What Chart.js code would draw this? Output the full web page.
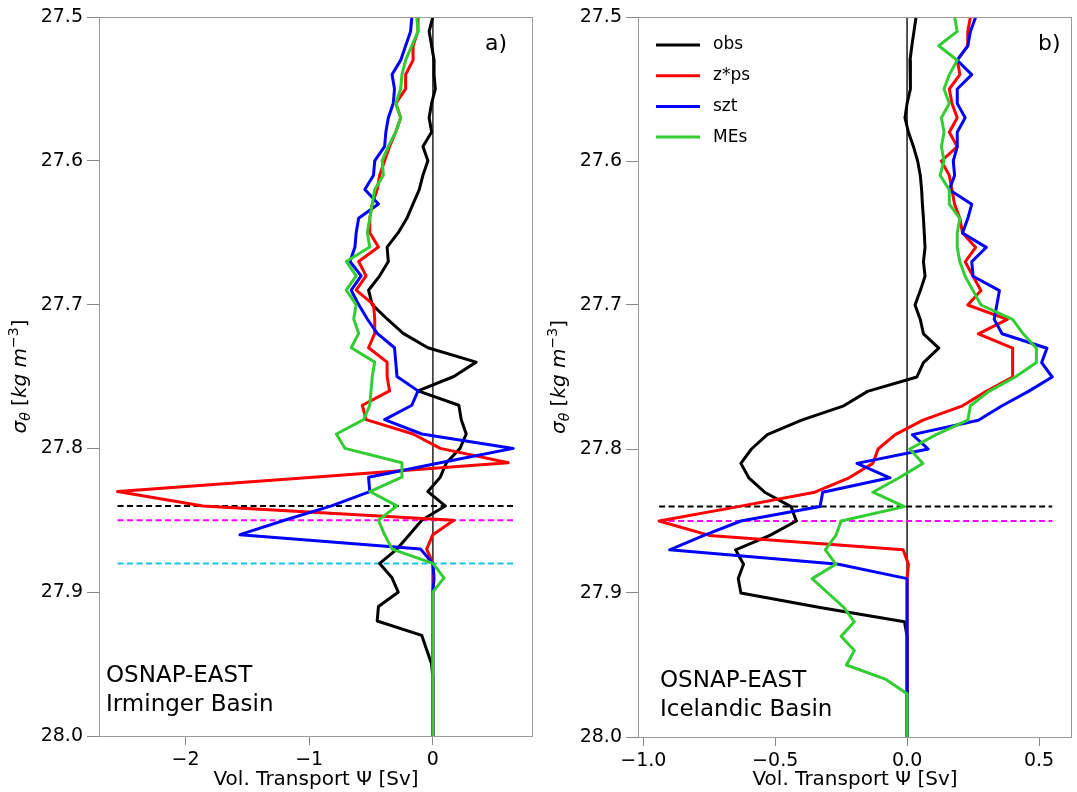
<!DOCTYPE html>
<html><head><meta charset="utf-8">
<script src="https://cdn.jsdelivr.net/npm/chart.js@4.4.1/dist/chart.umd.min.js"></script>
<style>
html,body{margin:0;padding:0;background:#fff;}
#wrap{position:relative;width:1077px;height:792px;overflow:hidden;background:#fff;}
.pane{position:absolute;top:0;}
</style></head><body>
<div id="wrap">
<div class="pane" style="left:0;width:538px;height:792px"><canvas id="ca" width="538" height="792"></canvas></div>
<div class="pane" style="left:538px;width:539px;height:792px"><canvas id="cb" width="539" height="792"></canvas></div>
</div>
<script>
// ---------------- DATA ----------------
const sigma = [27.50,27.51,27.52,27.53,27.54,27.55,27.56,27.57,27.58,27.59,
27.60,27.61,27.62,27.63,27.64,27.65,27.66,27.67,27.68,27.69,
27.70,27.71,27.72,27.73,27.74,27.75,27.76,27.77,27.78,27.79,
27.80,27.81,27.82,27.83,27.84,27.85,27.86,27.87,27.88,27.89,
27.90,27.91,27.92,27.93,27.94,27.95,27.96,27.97,27.98,27.99,28.00];

const seriesNames = ['obs','z*ps','szt','MEs'];

// Panel a) Irminger Basin
const obsA = [0.00,-0.03,-0.01,0.01,0.01,0.02,-0.01,-0.03,-0.01,-0.08,-0.04,-0.08,-0.11,-0.16,-0.21,-0.28,-0.37,
 -0.36,-0.43,-0.52,-0.49,-0.37,-0.24,-0.04,0.35,0.17,-0.12,0.21,0.23,0.27,0.22,0.11,0.06,-0.04,0.10,
 -0.09,-0.19,-0.29,-0.43,-0.33,-0.28,-0.44,-0.45,-0.09,-0.05,-0.01,0,0,0,0,0];
const zpsA = [-0.12,-0.12,-0.16,-0.16,-0.22,-0.22,-0.30,-0.26,-0.30,-0.35,-0.39,-0.43,-0.45,-0.49,-0.51,-0.51,-0.44,
 -0.60,-0.54,-0.62,-0.48,-0.47,-0.47,-0.52,-0.37,-0.37,-0.35,-0.57,-0.54,-0.16,0.06,0.61,-0.97,-2.55,-1.86,
 0.17,0.00,-0.05,0.00,0,0,0,0,0,0,0,0,0,0,0,0];
const sztA = [-0.17,-0.18,-0.22,-0.26,-0.33,-0.31,-0.32,-0.36,-0.38,-0.39,-0.47,-0.48,-0.55,-0.44,-0.60,-0.62,-0.63,
 -0.67,-0.58,-0.66,-0.60,-0.53,-0.45,-0.31,-0.30,-0.29,-0.12,-0.17,-0.39,-0.09,0.65,0.06,-0.52,-0.51,-0.82,
 -1.20,-1.56,-0.10,0.00,0.01,0,0,0,0,0,0,0,0,0,0,0];
const mesA = [-0.13,-0.12,-0.17,-0.22,-0.25,-0.26,-0.30,-0.26,-0.30,-0.36,-0.41,-0.40,-0.47,-0.49,-0.51,-0.53,-0.51,
 -0.70,-0.62,-0.70,-0.62,-0.64,-0.60,-0.66,-0.47,-0.49,-0.50,-0.51,-0.56,-0.78,-0.71,-0.25,-0.25,-0.51,-0.29,
 -0.44,-0.39,-0.33,0.00,0.09,0,0,0,0,0,0,0,0,0,0,0];

// Panel b) Icelandic Basin
const obsB = [0.034,0.026,0.018,0.011,0.014,0.011,0.000,-0.008,0.005,0.024,0.040,0.050,0.055,0.058,0.062,0.065,0.068,
 0.062,0.068,0.050,0.030,0.050,0.062,0.120,0.062,0.037,-0.150,-0.240,-0.400,-0.530,-0.590,-0.630,-0.600,-0.540,-0.440,
 -0.420,-0.520,-0.650,-0.620,-0.640,-0.630,-0.330,-0.010,0,0,0,0,0,0,0,0];
const zpsB = [0.24,0.23,0.23,0.19,0.20,0.16,0.17,0.19,0.16,0.19,0.13,0.16,0.17,0.18,0.20,0.21,0.26,
 0.22,0.25,0.28,0.23,0.38,0.27,0.40,0.40,0.40,0.30,0.21,0.06,-0.045,-0.11,-0.13,-0.22,-0.35,-0.64,
 -0.94,-0.75,-0.015,0.005,0,0,0,0,0,0,0,0,0,0,0,0];
const sztB = [0.26,0.24,0.23,0.19,0.245,0.19,0.19,0.22,0.19,0.19,0.175,0.18,0.16,0.245,0.23,0.21,0.30,
 0.245,0.25,0.35,0.34,0.33,0.36,0.53,0.51,0.55,0.46,0.36,0.27,0.02,0.08,-0.19,-0.065,-0.32,-0.33,
 -0.63,-0.77,-0.90,-0.26,0,0,0,0,0,0,0,0,0,0,0,0];
const mesB = [0.18,0.19,0.12,0.19,0.16,0.14,0.16,0.13,0.14,0.13,0.14,0.125,0.16,0.16,0.20,0.19,0.19,
 0.20,0.22,0.25,0.28,0.40,0.44,0.49,0.49,0.41,0.31,0.24,0.23,0.11,0.01,0.06,-0.03,-0.13,-0.01,
 -0.25,-0.27,-0.31,-0.27,-0.36,-0.30,-0.24,-0.20,-0.25,-0.20,-0.23,-0.08,0,0,0,0];

// reference (dashed) density levels and their horizontal extent
const refLevelsA = [27.84, 27.85, 27.88];
const refSpanA = [-2.55, 0.65];
const refLevelsB = [27.84, 27.85];
const refSpanB = [-0.94, 0.55];
const zeroX = [0];

// axes
const yRange = [27.5, 28.0];
const yTicks = [27.5, 27.6, 27.7, 27.8, 27.9, 28.0];
const xRangeA = [-2.70, 0.81];
const xTicksA = [-2, -1, 0];
const xRangeB = [-1.02, 0.625];
const xTicksB = [-1.0, -0.5, 0.0, 0.5];

// texts
const xTitle = 'Vol. Transport \u03a8 [Sv]';
const panelTags = ['a)', 'b)'];
const panelTextA = ['OSNAP-EAST', 'Irminger Basin'];
const panelTextB = ['OSNAP-EAST', 'Icelandic Basin'];

// ---------------- STYLE ----------------
const FONT = '"DejaVu Sans", "Liberation Sans", sans-serif';
Chart.defaults.font.family = FONT;
Chart.defaults.color = '#000';
const seriesColors = ['#000000', '#ff0000', '#0000ff', '#32cd32'];
const refColorsA = ['#000000', '#ff00ff', '#18c4ea'];
const refColorsB = ['#000000', '#ff00ff'];

function pts(xs) { return xs.map((v, i) => ({x: v, y: sigma[i]})); }

function buildDatasets(series, refLevels, refSpan, refColors) {
  const base = {showLine: true, pointRadius: 0, pointHoverRadius: 0, fill: false, tension: 0,
                borderJoinStyle: 'round', borderCapStyle: 'butt'};
  const ds = [];
  ds.push(Object.assign({}, base, {label: 'zero', data: yRange.map(y => ({x: zeroX[0], y})),
          borderColor: '#3a3a3a', borderWidth: 1, order: 10}));
  refLevels.forEach((lv, j) => ds.push(Object.assign({}, base, {label: 'ref' + j,
          data: refSpan.map(x => ({x, y: lv})), borderColor: refColors[j], borderWidth: 2,
          borderDash: [6, 3.5], order: 8})));
  series.forEach((s, j) => ds.push(Object.assign({}, base, {label: seriesNames[j], data: pts(s),
          borderColor: seriesColors[j], borderWidth: 3, order: 4 - j})));
  return ds;
}

function drawYTitle(ctx, x, yc) {
  const b = 20;
  const parts = [
    {t: '\u03c3', f: `italic ${b}px ${FONT}`, dy: 0},
    {t: '\u03b8', f: `italic ${b * 0.7}px ${FONT}`, dy: b * 0.22},
    {t: ' [', f: `${b}px ${FONT}`, dy: 0},
    {t: 'kg m', f: `italic ${b}px ${FONT}`, dy: 0},
    {t: '\u22123', f: `${b * 0.7}px ${FONT}`, dy: -b * 0.42},
    {t: ']', f: `${b}px ${FONT}`, dy: 0}
  ];
  ctx.save();
  ctx.textBaseline = 'alphabetic';
  ctx.textAlign = 'left';
  let total = 0;
  parts.forEach(p => { ctx.font = p.f; p.w = ctx.measureText(p.t).width; total += p.w; });
  ctx.translate(x, yc);
  ctx.rotate(-Math.PI / 2);
  let cx = -total / 2;
  ctx.fillStyle = '#000';
  parts.forEach(p => { ctx.font = p.f; ctx.fillText(p.t, cx, p.dy); cx += p.w; });
  ctx.restore();
}

function decorPlugin(cfg) {
  return {
    id: 'decor',
    afterDraw(chart) {
      const {ctx, chartArea: a} = chart;
      ctx.save();
      ctx.strokeStyle = '#9a9a9a';
      ctx.lineWidth = 1;
      ctx.strokeRect(a.left + 0.5, a.top + 0.5, a.right - a.left - 1, a.bottom - a.top);
      ctx.fillStyle = '#000';
      ctx.textBaseline = 'alphabetic';
      ctx.textAlign = 'left';
      ctx.font = `22px ${FONT}`;
      ctx.fillText(cfg.tag, a.right - cfg.tagDx, a.top + 33);
      ctx.font = `23px ${FONT}`;
      cfg.texts.forEach((t, i) => ctx.fillText(t, a.left + cfg.textDx, cfg.textY[i]));
      if (cfg.legend) {
        const metas = chart.data.datasets.filter(d => seriesNames.includes(d.label));
        ctx.font = `17px ${FONT}`;
        ctx.textBaseline = 'middle';
        metas.forEach((d, i) => {
          const y = a.top + 28 + i * 30.7;
          ctx.strokeStyle = d.borderColor;
          ctx.lineWidth = 3;
          ctx.beginPath();
          ctx.moveTo(a.left + 18, y);
          ctx.lineTo(a.left + 62, y);
          ctx.stroke();
          ctx.fillText(d.label, a.left + 75, y);
        });
      }
      drawYTitle(ctx, a.left - 73, (a.top + a.bottom) / 2);
      ctx.restore();
    }
  };
}

function makeOptions(xRange, xTicks, yWidth, xHeight, padRight, xFmt) {
  return {
    responsive: false, animation: false, devicePixelRatio: 1,
    layout: {padding: {top: 17, right: padRight, bottom: 0, left: 0}},
    plugins: {legend: {display: false}, tooltip: {enabled: false}},
    events: [],
    scales: {
      x: {
        type: 'linear', min: xRange[0], max: xRange[1],
        afterBuildTicks: s => { s.ticks = xTicks.map(v => ({value: v})); },
        afterFit: s => { s.height = xHeight; },
        ticks: {font: {size: 19}, color: '#000', padding: 4, callback: xFmt, maxRotation: 0, autoSkip: false},
        grid: {drawOnChartArea: false, drawTicks: true, tickLength: 9, color: '#888', lineWidth: 1},
        border: {display: false},
        title: {display: true, text: xTitle, font: {size: 20}, color: '#000', padding: {top: 0, bottom: 0}}
      },
      y: {
        type: 'linear', reverse: true, min: yRange[0], max: yRange[1],
        afterBuildTicks: s => { s.ticks = yTicks.map(v => ({value: v})); },
        afterFit: s => { s.width = yWidth; },
        ticks: {font: {size: 19}, color: '#000', padding: 4, callback: v => Number(v).toFixed(1), autoSkip: false},
        grid: {drawOnChartArea: false, drawTicks: true, tickLength: 12, color: '#888', lineWidth: 1},
        border: {display: false}
      }
    }
  };
}

const minus = '\u2212';
new Chart(document.getElementById('ca'), {
  type: 'scatter',
  data: {datasets: buildDatasets([obsA, zpsA, sztA, mesA], refLevelsA, refSpanA, refColorsA)},
  options: makeOptions(xRangeA, xTicksA, 99, 56, 5, v => v < 0 ? minus + Math.abs(v) : String(v)),
  plugins: [decorPlugin({tag: panelTags[0], tagDx: 48, texts: panelTextA, textDx: 7, textY: [682, 711], legend: false})]
});
new Chart(document.getElementById('cb'), {
  type: 'scatter',
  data: {datasets: buildDatasets([obsB, zpsB, sztB, mesB], refLevelsB, refSpanB, refColorsB)},
  options: makeOptions(xRangeB, xTicksB, 100, 55, 5, v => v < 0 ? minus + Math.abs(v).toFixed(1) : Number(v).toFixed(1)),
  plugins: [decorPlugin({tag: panelTags[1], tagDx: 34, texts: panelTextB, textDx: 22, textY: [687, 716], legend: true})]
});
</script>
</body></html>
